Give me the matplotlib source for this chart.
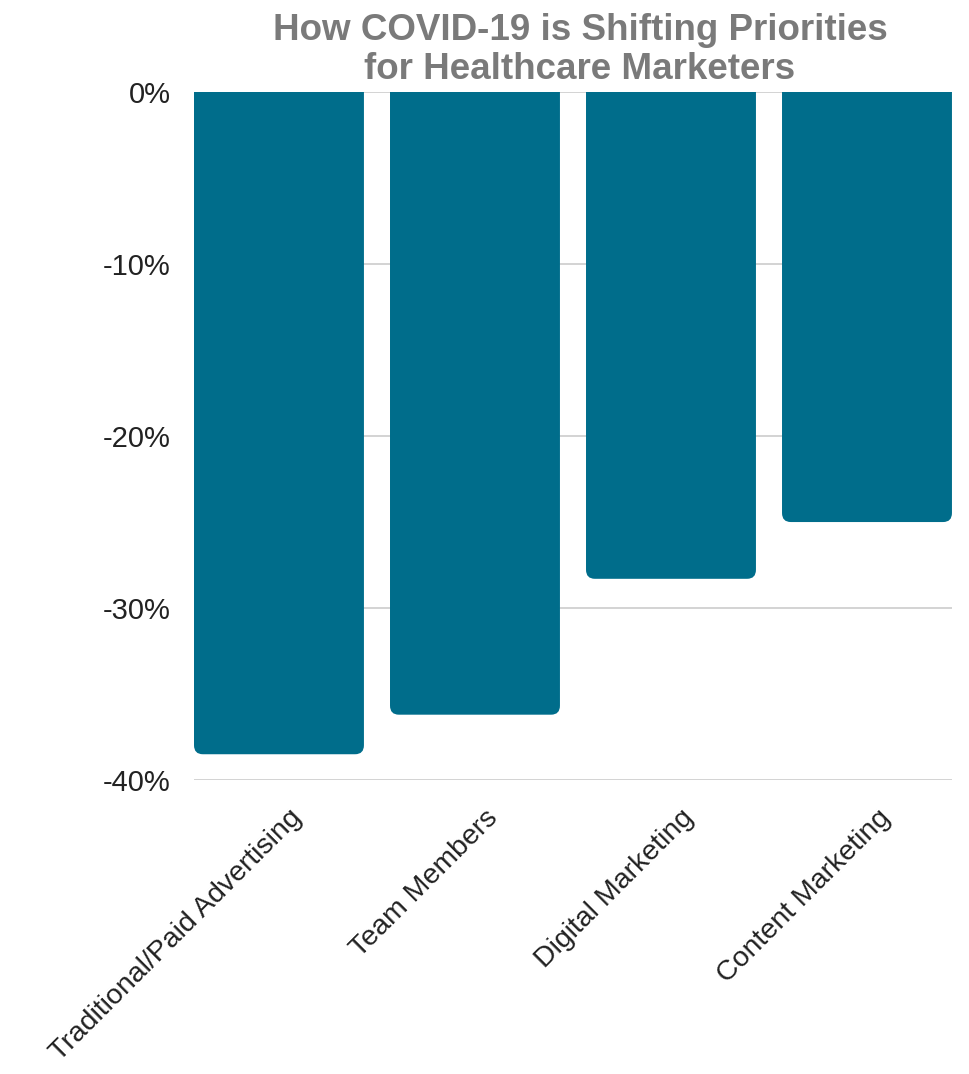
import numpy as np
import matplotlib.pyplot as plt
import matplotlib.transforms as mtransforms
from matplotlib.patches import FancyBboxPatch

plt.rcParams['font.family'] = ['Liberation Sans', 'DejaVu Sans']

# data
categories = ['Traditional/Paid Advertising', 'Team Members', 'Digital Marketing', 'Content Marketing']
values = [-38.5, -36.2, -28.3, -25.0]
yticks = [0, -10, -20, -30, -40]

bar_color = '#006d8b'
bar_w = 0.867

fig = plt.figure(figsize=(9.7, 10.74), dpi=100)
ax = fig.add_axes([0.2, 0.2737, 0.7814, 0.6406])

x = np.arange(len(categories))
bars = ax.bar(x, values, width=bar_w, color=bar_color, zorder=2)

ax.set_xlim(-bar_w / 2, len(categories) - 1 + bar_w / 2)
ax.set_ylim(-40, 0)

# swap the plain rectangles for ones with rounded bottom corners
# (top is pushed past the axes edge so those corners get clipped)
for b in bars:
    bx, by, bw, bh = b.get_x(), b.get_y(), b.get_width(), b.get_height()
    lo = min(by, by + bh)
    hi = max(by, by + bh) + 2
    b.set_visible(False)
    p = FancyBboxPatch((bx, lo), bw, hi - lo,
                       boxstyle='round,pad=0,rounding_size=0.045',
                       mutation_aspect=11.6, facecolor=bar_color,
                       edgecolor='none', zorder=2)
    ax.add_patch(p)

ax.set_yticks(yticks)
ax.set_yticklabels([f'{t}%' for t in yticks], fontsize=21, color='#222222')
ax.set_xticks(x)
ax.set_xticklabels(categories, rotation=45, ha='right', rotation_mode='anchor',
                   fontsize=20.5, color='#222222')
ax.tick_params(axis='y', length=0, pad=17)
ax.tick_params(axis='x', length=0, pad=18)

# nudge the slanted labels a little to the right, like the original
shift = mtransforms.ScaledTranslation(10 / 100, 0, fig.dpi_scale_trans)
for lab in ax.get_xticklabels():
    lab.set_transform(lab.get_transform() + shift)

ax.grid(axis='y', color='#cccccc', linewidth=1.2, zorder=0)
for s in ax.spines.values():
    s.set_visible(False)

fig.text(0.598, 0.988, 'How COVID-19 is Shifting Priorities\nfor Healthcare Marketers',
         ha='center', va='top', fontsize=26.5, fontweight='bold', color='#7a7a7a',
         linespacing=1.15)

fig.savefig('out.png', dpi=100)
